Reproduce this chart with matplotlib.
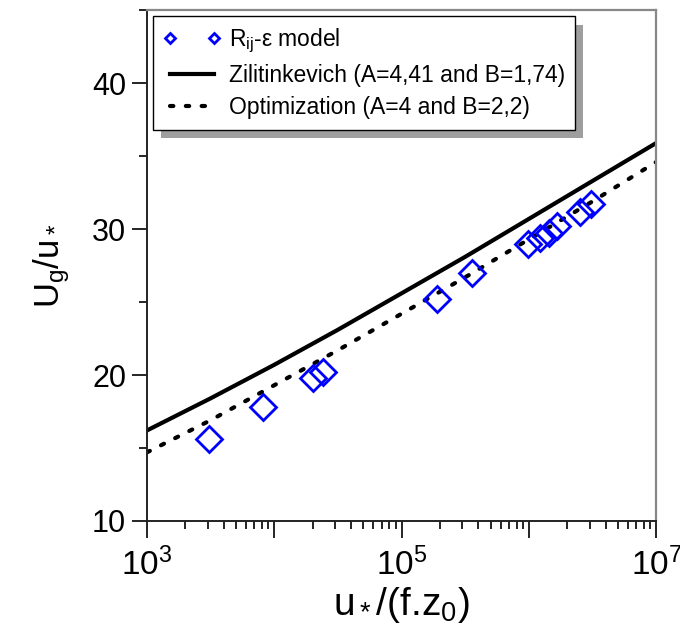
import matplotlib
matplotlib.use("Agg")
import matplotlib.pyplot as plt
from matplotlib.ticker import FixedLocator, FuncFormatter, LogLocator, NullFormatter, MultipleLocator
import numpy as np

plt.rcParams["font.family"] = ["Liberation Sans", "DejaVu Sans"]
plt.rcParams["mathtext.fontset"] = "custom"
plt.rcParams["mathtext.rm"] = "Liberation Sans"
plt.rcParams["mathtext.it"] = "Liberation Sans:italic"
plt.rcParams["mathtext.default"] = "regular"

# Rij-eps model points
rossby = [3.1e3, 8.1e3, 2.0e4, 2.4e4, 1.9e5, 3.55e5, 9.9e5, 1.22e6, 1.45e6, 1.65e6, 2.5e6, 3.1e6]
ug_model = [15.6, 17.8, 19.8, 20.2, 25.2, 27.0, 29.0, 29.4, 29.7, 30.2, 31.2, 31.7]

# drag-law curves, read every half decade
ro_curve = [1e3, 3.16e3, 1e4, 3.16e4, 1e5, 3.16e5, 1e6, 3.16e6, 1e7]
ug_zilitinkevich = [16.2, 18.4, 20.7, 23.1, 25.6, 28.1, 30.7, 33.3, 35.9]
ug_optimization = [14.7, 16.9, 19.3, 21.7, 24.2, 26.7, 29.3, 31.9, 34.6]

x_major = [1e3, 1e4, 1e5, 1e6, 1e7]
x_labelled = [3, 5, 7]

fig = plt.figure(figsize=(6.8, 6.4), dpi=100)
ax = fig.add_axes([0.216, 0.186, 0.749, 0.798])

l_zil, = ax.plot(ro_curve, ug_zilitinkevich, color="black", lw=3.0,
                 label="Zilitinkevich (A=4,41 and B=1,74)")
l_opt, = ax.plot(ro_curve, ug_optimization, color="black", lw=3.0,
                 dashes=(0.8, 3.0), dash_capstyle="round",
                 label="Optimization (A=4 and B=2,2)")
l_mod, = ax.plot(rossby, ug_model, ls="none", marker="D", ms=13,
                 mfc="none", mec="#0000ff", mew=2.0,
                 label=r"R$_{ij}$-ε model")

ax.set_xscale("log")
ax.set_xlim(1e3, 1e7)
ax.set_ylim(10, 45)

ax.xaxis.set_major_locator(FixedLocator(x_major))
ax.xaxis.set_major_formatter(FuncFormatter(
    lambda v, p: r"$10^{%d}$" % round(np.log10(v)) if round(np.log10(v)) in x_labelled else ""))
ax.xaxis.set_minor_locator(LogLocator(base=10, subs=np.arange(2, 10), numticks=50))
ax.xaxis.set_minor_formatter(NullFormatter())
ax.yaxis.set_major_locator(MultipleLocator(10))
ax.yaxis.set_minor_locator(MultipleLocator(5))

ax.tick_params(axis="y", which="major", direction="out", length=11, width=1.2,
               labelsize=22, pad=4, right=False)
ax.tick_params(axis="y", which="minor", direction="out", length=6, width=1.2)
ax.tick_params(axis="x", which="major", direction="out", length=12, width=1.2,
               labelsize=24, pad=7, top=False)
ax.tick_params(axis="x", which="minor", direction="out", length=6, width=1.2)

for side in ["left", "bottom"]:
    ax.spines[side].set_color("#222222")
    ax.spines[side].set_linewidth(1.4)
for side in ["top", "right"]:
    ax.spines[side].set_color("#888888")
    ax.spines[side].set_linewidth(1.6)

ax.set_xlabel(r"u$_*$/(f.z$_0$)", fontsize=28, labelpad=2)
ax.set_ylabel(r"U$_g$/u$_*$", fontsize=25, labelpad=14)

leg = ax.legend(handles=[l_mod, l_zil, l_opt], loc="upper left",
                bbox_to_anchor=(0.012, 0.988), borderaxespad=0,
                numpoints=2, markerscale=0.38, fontsize=16.5, fancybox=False,
                handlelength=2.5, handletextpad=0.35, borderpad=0.45,
                labelspacing=0.4, edgecolor="black", framealpha=1,
                shadow={"ox": 6, "oy": -6, "facecolor": "0.62",
                        "edgecolor": "none", "alpha": 1})
leg.get_frame().set_linewidth(1.0)

fig.savefig("out.png", dpi=100)
plt.close(fig)
